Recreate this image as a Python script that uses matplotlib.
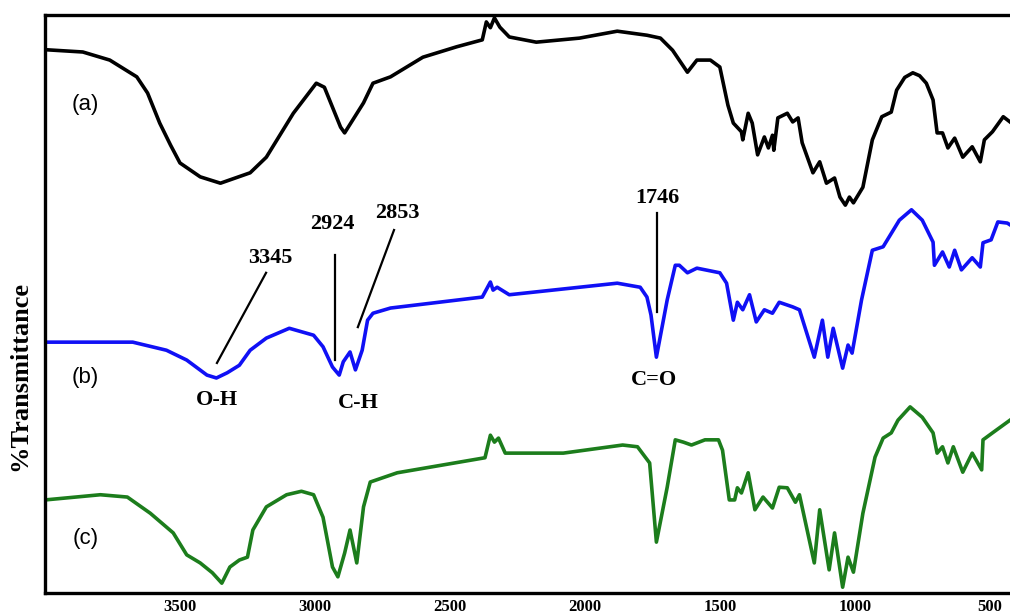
import matplotlib
matplotlib.use("Agg")
import matplotlib.pyplot as plt
import numpy as np

# ---------------------------------------------------------
# FTIR spectra (wavenumber cm-1, arbitrary %T)
wn_a = [4000, 3860, 3760, 3660, 3620, 3575, 3535, 3500, 3425, 3350, 3240, 3180, 3080,
        2995, 2965, 2905, 2890, 2820, 2785, 2720, 2600, 2475, 2380, 2365, 2350,
        2335, 2315, 2280, 2180, 2020, 1880, 1770, 1720, 1675, 1620, 1585, 1535,
        1500, 1470, 1450, 1420, 1415, 1395, 1380, 1360, 1335, 1320, 1305, 1300,
        1285, 1250, 1230, 1210, 1195, 1155, 1130, 1105, 1075, 1055, 1035, 1020,
        1005, 970, 935, 900, 865, 845, 815, 785, 760, 735, 710, 695, 675, 655, 630, 600,
        565, 535, 520, 490, 450, 425]
t_a = [94.0, 93.6, 92.2, 89.3, 86.5, 81.3, 77.5, 74.4, 72.0, 70.9, 72.7, 75.4, 83.0,
       88.2, 87.5, 80.6, 79.6, 84.8, 88.2, 89.3, 92.7, 94.5, 95.7, 98.8, 97.8,
       99.5, 97.9, 96.2, 95.3, 96.0, 97.2, 96.5, 96.0, 93.9, 90.1, 92.2, 92.2,
       91.0, 84.4, 81.3, 79.8, 78.4, 83.0, 81.3, 75.8, 78.9, 77.0, 79.2, 76.6,
       82.2, 83.0, 81.5, 82.2, 77.9, 72.7, 74.6, 70.9, 71.8, 68.5, 67.1, 68.5,
       67.5, 70.2, 78.4, 82.4, 83.2, 87.0, 89.2, 90.0, 89.5, 88.2, 85.3, 79.6, 79.6, 77.0,
       78.7, 75.4, 77.2, 74.6, 78.4, 79.8, 82.4, 81.5]

wn_b = [4000, 3675, 3550, 3475, 3400, 3365, 3325, 3280, 3240, 3180, 3095, 3005,
        2970, 2935, 2910, 2895, 2870, 2850, 2825, 2805, 2785, 2720, 2380, 2350,
        2340, 2325, 2280, 1880, 1795, 1770, 1755, 1735, 1695, 1665, 1650, 1620,
        1585, 1500, 1475, 1450, 1435, 1415, 1390, 1365, 1335, 1305, 1280, 1230,
        1205, 1150, 1120, 1100, 1080, 1045, 1025, 1010, 975, 935, 895, 835,
        790, 750, 710, 705, 675, 650, 630, 605, 565, 535, 525, 495, 470, 435, 425]
t_b = [43.4, 43.4, 42.0, 40.3, 37.7, 37.2, 38.1, 39.4, 42.0, 44.1, 45.8, 44.6,
       42.6, 39.1, 37.7, 40.0, 41.7, 38.6, 42.0, 47.2, 48.4, 49.3, 51.2, 53.8,
       52.4, 52.9, 51.6, 53.6, 52.9, 51.2, 48.1, 40.8, 50.7, 56.7, 56.7, 55.4,
       56.2, 55.4, 53.6, 47.2, 50.3, 49.0, 51.6, 46.9, 49.0, 48.4, 50.3, 49.5,
       49.0, 40.8, 47.2, 40.8, 45.8, 38.9, 42.9, 41.5, 50.7, 59.3, 59.9, 64.5,
       66.3, 64.5, 60.7, 56.7, 59.0, 56.4, 59.3, 55.9, 58.0, 56.4, 60.6, 61.1,
       64.2, 64.0, 63.7]

wn_c = [4000, 3795, 3695, 3610, 3525, 3475, 3425, 3380, 3345, 3315, 3280, 3250,
        3230, 3180, 3105, 3050, 3005, 2970, 2935, 2915, 2890, 2870, 2845, 2820,
        2795, 2695, 2370, 2350, 2335, 2320, 2295, 2080, 1860, 1805, 1760, 1735,
        1695, 1665, 1635, 1605, 1555, 1505, 1490, 1465, 1445, 1435, 1420, 1395,
        1370, 1340, 1305, 1280, 1250, 1220, 1205, 1150, 1130, 1095, 1075, 1045,
        1025, 1005, 970, 925, 895, 865, 840, 795, 750, 710, 695, 675, 655, 635,
        600, 565, 530, 525, 490, 425]
t_c = [16.1, 17.0, 16.6, 13.8, 10.4, 6.6, 5.2, 3.5, 1.7, 4.5, 5.7, 6.2,
       10.9, 14.9, 17.0, 17.6, 17.0, 13.1, 4.5, 2.8, 6.9, 10.9, 5.2, 14.9,
       19.2, 20.8, 23.4, 27.3, 26.1, 26.8, 24.2, 24.2, 25.6, 25.3, 22.5, 8.8,
       18.3, 26.5, 26.1, 25.6, 26.5, 26.5, 24.7, 16.1, 16.1, 18.2, 17.3, 20.8,
       14.4, 16.6, 14.7, 18.3, 18.2, 15.7, 17.0, 5.2, 14.4, 4.0, 10.4, 1.0,
       6.2, 3.6, 13.8, 23.5, 26.8, 27.7, 29.9, 32.2, 30.4, 27.7, 24.2, 25.3,
       22.5, 25.3, 20.9, 24.2, 21.3, 26.5, 27.7, 29.9]

xticks = [3500, 3000, 2500, 2000, 1500, 1000, 500]
labels = ["(a)", "(b)", "(c)"]

# peak marks: text, text pos, line start, line end
peaks = [
    ("3345", (3167, 58.0), (3181, 55.4), (3363, 39.8)),
    ("2924", (2937, 63.8), (2926, 58.5), (2926, 40.3)),
    ("2853", (2696, 65.7), (2707, 62.8), (2841, 46.0)),
    ("1746", (1733, 68.3), (1733, 65.7), (1733, 48.6)),
]
groups = [("O-H", 3363, 33.4), ("C-H", 2841, 32.9), ("C=O", 1744, 36.9)]

# =========================================================
fig = plt.figure(figsize=(10.10, 6.16), dpi=100)
ax = fig.add_axes([45 / 1010, 23 / 616, 965 / 1010, 578 / 616])

ax.plot(wn_a, t_a, color="black", lw=2.6, solid_joinstyle="round")
ax.plot(wn_b, t_b, color="#1010f5", lw=2.6, solid_joinstyle="round")
ax.plot(wn_c, t_c, color="#1c7d1c", lw=2.6, solid_joinstyle="round")

ax.set_xlim(4000, 425)
ax.set_ylim(0, 100)

serif_b = dict(family="Liberation Serif", fontweight="bold")

for txt, tpos, p0, p1 in peaks:
    ax.plot([p0[0], p1[0]], [p0[1], p1[1]], color="black", lw=1.6)
    ax.text(tpos[0], tpos[1], txt, ha="center", va="center", fontsize=16, **serif_b)
for txt, x, y in groups:
    ax.text(x, y, txt, ha="center", va="center", fontsize=16, **serif_b)

for lab, y in zip(labels, [84.6, 37.2, 9.5]):
    ax.text(3850, y, lab, ha="center", va="center", fontsize=16, family="Liberation Sans")

ax.set_xticks(xticks)
ax.set_xticklabels([str(v) for v in xticks], fontsize=12, **serif_b)
ax.tick_params(axis="x", length=0, pad=4)
ax.set_yticks([])

for s in ["left", "top", "bottom"]:
    ax.spines[s].set_linewidth(2.4)
ax.spines["right"].set_visible(False)

fig.text(20 / 1010, 1 - 376 / 616, "%Transmittance", rotation=90,
         ha="center", va="center", fontsize=19, **serif_b)

fig.savefig("out.png", dpi=100)
